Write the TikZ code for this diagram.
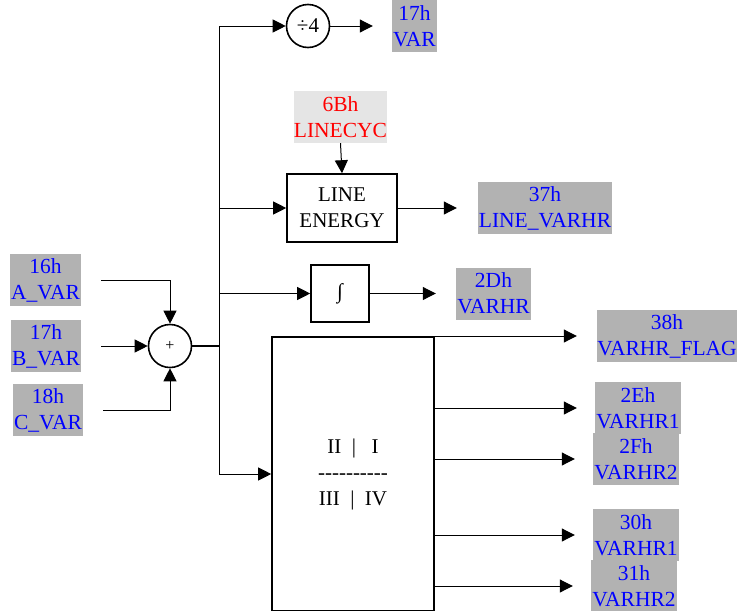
\documentclass[tikz,border=0pt]{standalone}
\usepackage{fontspec}
\setmainfont{Liberation Serif}
\usepackage{xcolor}
\usepackage{tikz}
\usetikzlibrary{arrows.meta, positioning, calc}

\begin{document}
\begin{tikzpicture}[
    x=1pt, y=-1pt,
    reg/.style={fill=gray!60, text=blue, inner sep=0pt, align=center, minimum height=52pt, font=\fontsize{21.5}{26}\selectfont},
    cfg/.style={reg, fill=gray!20, text=red},
    block/.style={draw, line width=1.6pt, inner sep=0pt, align=center, font=\fontsize{21}{26}\selectfont},
    op/.style={draw, circle, line width=1.6pt, inner sep=0pt, minimum size=43pt, font=\fontsize{21}{26}\selectfont},
    arrow/.style={-{Triangle[length=13pt, width=13pt]}, line width=1pt},
    wire/.style={line width=1pt}
]
\useasboundingbox (0,0) rectangle (737,611);

\node[reg, minimum width=71pt] (avar) at (45.5,280) {16h\\A\_VAR};
\node[reg, minimum width=70pt] (bvar) at (46,346) {17h\\B\_VAR};
\node[reg, minimum width=70pt] (cvar) at (48,410) {18h\\C\_VAR};
\node[op] (sum) at (170,346) {\fontsize{16}{16}\selectfont +};
\coordinate (j) at (219,346);

\node[op] (div) at (308,26) {÷4};
\node[reg, minimum width=45pt] (var) at (414.5,26) {17h\\VAR};

\node[cfg, minimum width=93pt] (lcyc) at (340.5,117) {6Bh\\LINECYC};
\node[block, minimum width=110pt, minimum height=68pt] (le) at (342,208) {LINE\\ENERGY};
\node[reg, minimum width=134pt] (lvarhr) at (545,208) {37h\\LINE\_VARHR};

\node[block, minimum width=58pt, minimum height=57pt] (intg) at (340,293.5) {\itshape ∫};
\node[reg, minimum width=75pt] (varhr) at (493.5,293.5) {2Dh\\VARHR};

\node[block, minimum width=162pt, minimum height=274pt] (quad) at (353,474) {II\ \ |\ \ \ I\\-{}-{}-{}-{}-{}-{}-{}-{}-{}-\\III\ \ |\ \ IV};

\node[reg, minimum width=140pt] (flag) at (667,336) {38h\\VARHR\_FLAG};
\node[reg, minimum width=86pt] (hr2e) at (638,408) {2Eh\\VARHR1};
\node[reg, minimum width=86pt] (hr2f) at (636,459) {2Fh\\VARHR2};
\node[reg, minimum width=86pt] (hr30) at (636,535) {30h\\VARHR1};
\node[reg, minimum width=86pt] (hr31) at (634,586) {31h\\VARHR2};

\draw[arrow, shorten <=20pt] (avar.east) -| (sum.north);
\draw[arrow, shorten <=20pt] (bvar.east) -- (sum.west);
\draw[arrow, shorten <=20pt] (cvar.east) -| (sum.south);
\draw[wire, line width=1.6pt] (sum.east) -- (j);

\draw[arrow] (j) |- (div.west);
\draw[arrow] (j) |- (le.west);
\draw[arrow] (j) |- (intg.west);
\draw[arrow] (j) |- (quad.west);

\draw[arrow, shorten >=19pt] (div.east) -- (var.west);
\draw[arrow] (lcyc.south) -- (le.north);
\draw[arrow, shorten >=21pt] (le.east) -- (lvarhr.west);
\draw[arrow, shorten >=20pt] (intg.east) -- (varhr.west);

\draw[arrow, shorten >=20pt] (quad.east |- flag.west) -- (flag.west);
\draw[arrow, shorten >=18pt] (quad.east |- hr2e.west) -- (hr2e.west);
\draw[arrow, shorten >=18pt] (quad.east |- hr2f.west) -- (hr2f.west);
\draw[arrow, shorten >=18pt] (quad.east |- hr30.west) -- (hr30.west);
\draw[arrow, shorten >=18pt] (quad.east |- hr31.west) -- (hr31.west);

\end{tikzpicture}
\end{document}
